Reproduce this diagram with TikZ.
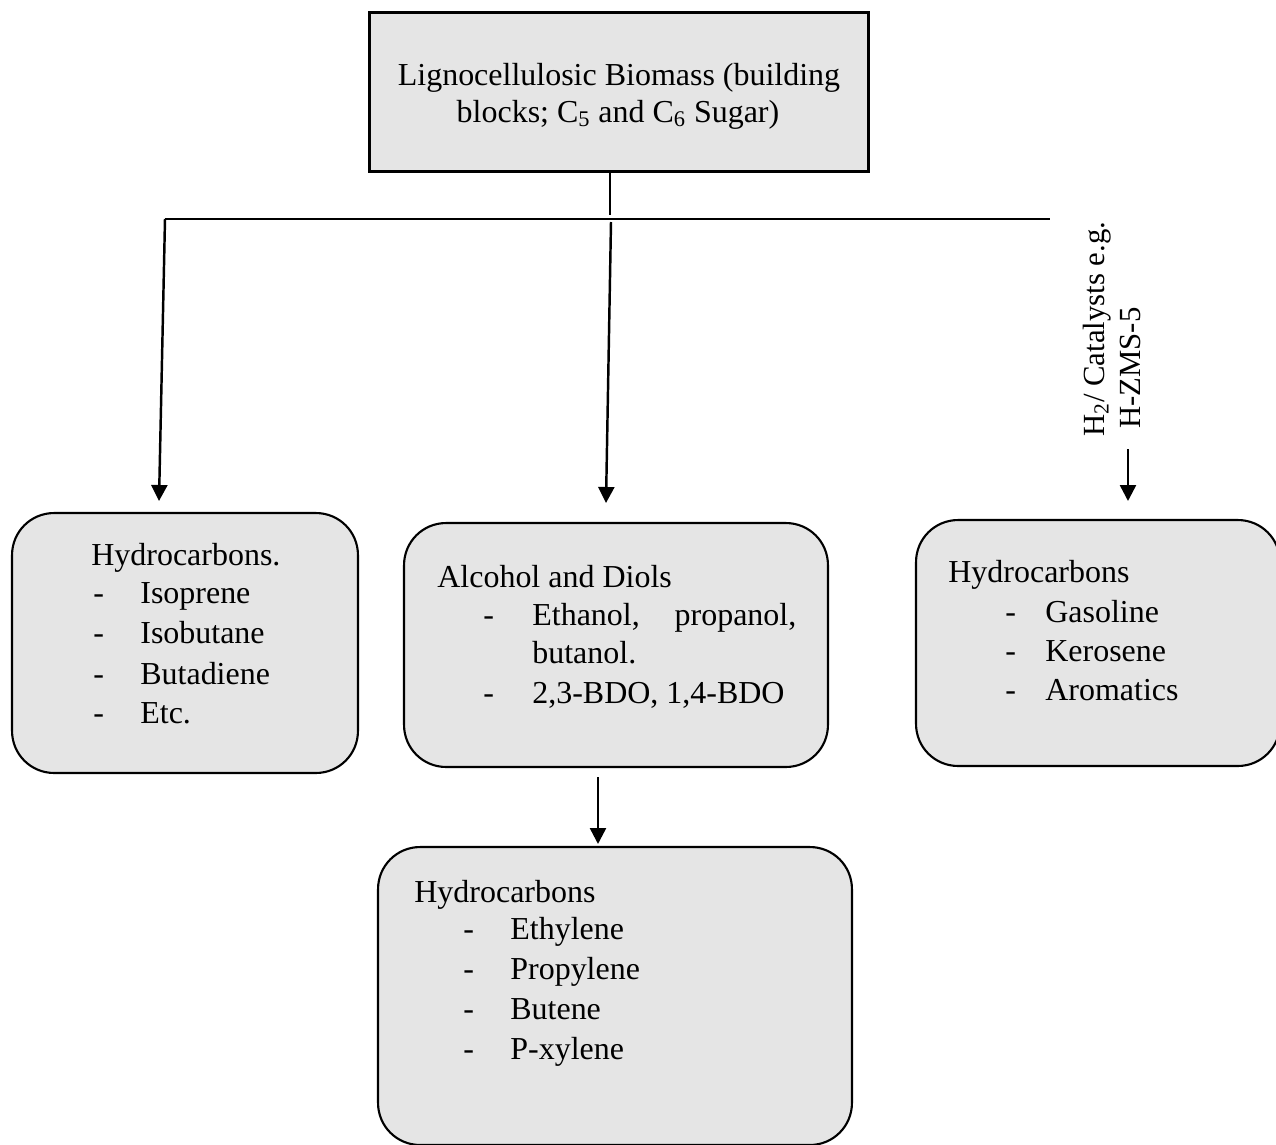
\documentclass[tikz,border=0pt]{standalone}
\usepackage{fontspec}
\setmainfont{Liberation Serif}
\usetikzlibrary{arrows.meta}
\begin{document}
\begin{tikzpicture}[x={(0.02cm,0)}, y={(0,-0.02cm)},
  boxfill/.style={fill=black!10, draw=black},
  topbox/.style={boxfill, line width=1.7pt, minimum width=10cm, minimum height=3.2cm, inner sep=0pt},
  rbox/.style={boxfill, line width=1.2pt, rounded corners=0.84cm, inner sep=0pt},
  txt/.style={anchor=base west, inner sep=0pt, font=\fontsize{18.2}{22}\selectfont},
  ctxt/.style={anchor=base, inner sep=0pt, font=\fontsize{18.2}{22}\selectfont},
  rtxt/.style={anchor=base west, inner sep=0pt, rotate=90, font=\fontsize{17.5}{21}\selectfont},
  thin line/.style={line width=0.6pt},
  arr/.style={line width=1.4pt, -{Triangle[length=0.32cm, width=0.32cm]}}
]
\useasboundingbox (0,0) rectangle (1276,1144);
\clip (0,0) rectangle (1276,1144);

% boxes
\node[topbox] (top) at (619,92) {};
\node[rbox, minimum width=6.92cm, minimum height=5.2cm] (left) at (185,643) {};
\node[rbox, minimum width=8.48cm, minimum height=4.88cm] (mid) at (616,645) {};
\node[rbox, minimum width=7.28cm, minimum height=4.92cm] (right) at (1098,643) {};
\node[rbox, minimum width=9.48cm, minimum height=5.96cm] (bottom) at (615,996) {};

% top text
\node[ctxt] (t1) at (619,85) {Lignocellulosic Biomass (building};
\node[ctxt] (t2) at (618,122) {blocks; C\textsubscript{5} and C\textsubscript{6} Sugar)};

% connectors
\coordinate (junc) at (610,219);
\coordinate (hl) at (165,219);
\coordinate (hr) at (1050,219);
\coordinate (mstart) at (611,222);
\coordinate (ltip) at (159,501);
\coordinate (mtip) at (606,503);
\coordinate (rstart) at (1128,449);
\coordinate (rtip) at (1128,501);
\coordinate (bstart) at (598,777);
\coordinate (btip) at (598,844);
\draw[thin line] (top.south -| junc) -- (610,215);
\draw[thin line] (hl) -- (hr);
\draw[arr] (hl) -- (ltip);
\draw[arr] (mstart) -- (mtip);
\draw[arr] (rstart) -- (rtip);
\draw[arr] (bstart) -- (btip);

% rotated label
\node[rtxt] (c1) at (1104,437) {H\textsubscript{2}/ Catalysts e.g.};
\node[rtxt] (c2) at (1140,429) {H-ZMS-5};

% left box text
\node[txt] (l0) at (91,565) {Hydrocarbons.};
\node[txt] (ld1) at (93,603) {-};
\node[txt] (l1) at (140,603) {Isoprene};
\node[txt] (ld2) at (93,643) {-};
\node[txt] (l2) at (140,643) {Isobutane};
\node[txt] (ld3) at (93,684) {-};
\node[txt] (l3) at (140,684) {Butadiene};
\node[txt] (ld4) at (93,723) {-};
\node[txt] (l4) at (140,723) {Etc.};

% middle box text
\node[txt] (m0) at (437,587) {Alcohol and Diols};
\node[txt] (md1) at (483,625) {-};
\node[txt] (m1) at (532,625) {\makebox[5.28cm][s]{Ethanol,\hfill propanol,}};
\node[txt] (m1b) at (532,663) {butanol.};
\node[txt] (md2) at (483,703) {-};
\node[txt] (m2) at (532,703) {2,3-BDO, 1,4-BDO};

% right box text
\node[txt] (r0) at (948,582) {Hydrocarbons};
\node[txt] (rd1) at (1005,622) {-};
\node[txt] (r1) at (1045,622) {Gasoline};
\node[txt] (rd2) at (1005,661) {-};
\node[txt] (r2) at (1045,661) {Kerosene};
\node[txt] (rd3) at (1005,700) {-};
\node[txt] (r3) at (1045,700) {Aromatics};

% bottom box text
\node[txt] (b0) at (414,902) {Hydrocarbons};
\node[txt] (bd1) at (463,939) {-};
\node[txt] (b1) at (510,939) {Ethylene};
\node[txt] (bd2) at (463,979) {-};
\node[txt] (b2) at (510,979) {Propylene};
\node[txt] (bd3) at (463,1019) {-};
\node[txt] (b3) at (510,1019) {Butene};
\node[txt] (bd4) at (463,1059) {-};
\node[txt] (b4) at (510,1059) {P-xylene};
\end{tikzpicture}
\end{document}
